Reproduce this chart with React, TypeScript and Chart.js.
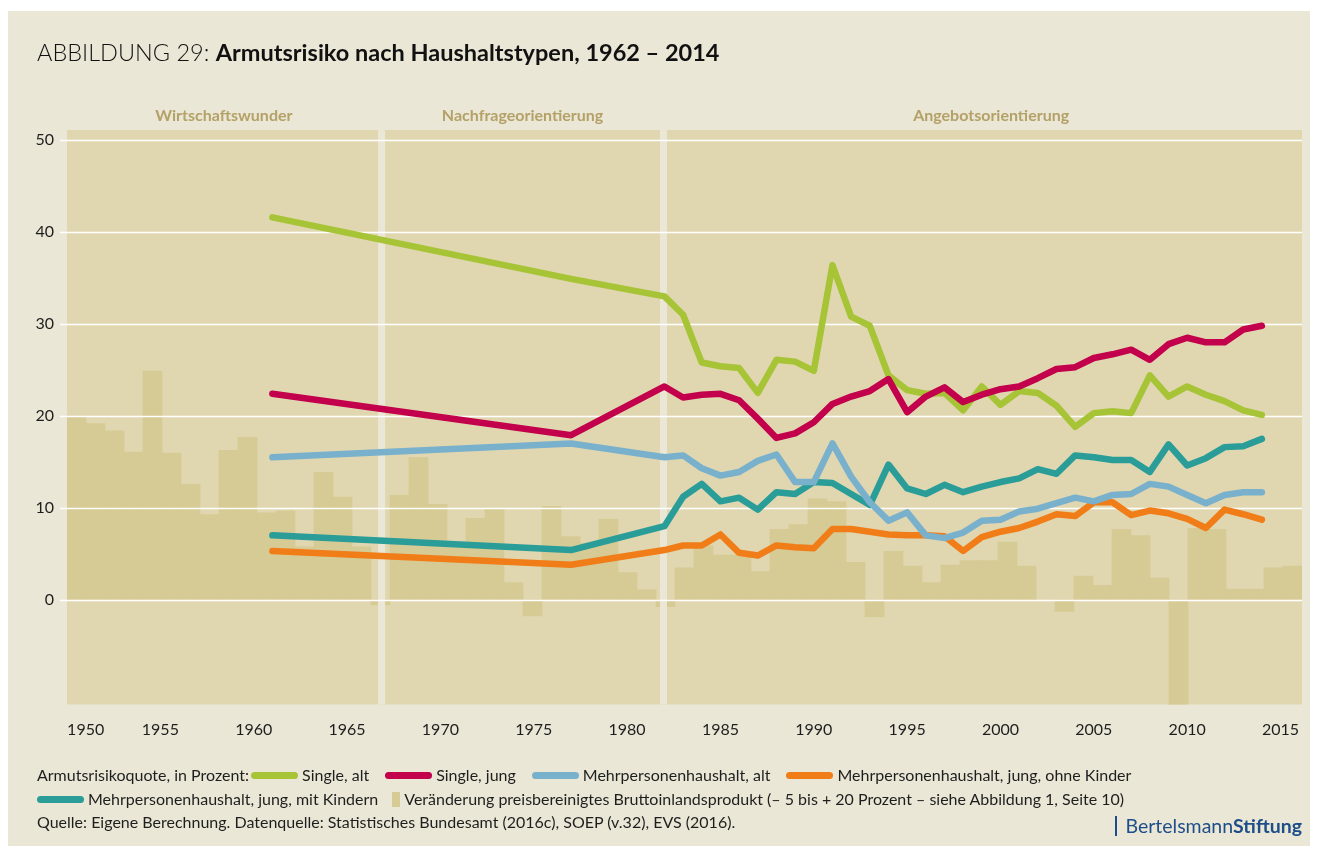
import React, { useEffect, useRef } from 'react';
import { Chart, registerables } from 'chart.js';

Chart.register(...registerables);

// ---------- data ----------
const lineYears = [1961, 1977, 1982, 1983, 1984, 1985, 1986, 1987, 1988, 1989, 1990, 1991, 1992, 1993, 1994, 1995, 1996, 1997, 1998, 1999, 2000, 2001, 2002, 2003, 2004, 2005, 2006, 2007, 2008, 2009, 2010, 2011, 2012, 2013, 2014];

const singleAlt = [41.6, 34.9, 33.0, 31.0, 25.8, 25.4, 25.2, 22.5, 26.1, 25.9, 24.9, 36.4, 30.8, 29.8, 24.4, 22.8, 22.4, 22.5, 20.6, 23.2, 21.2, 22.7, 22.5, 21.1, 18.8, 20.3, 20.5, 20.3, 24.4, 22.1, 23.2, 22.3, 21.6, 20.6, 20.1];
const singleJung = [22.4, 17.9, 23.2, 22.0, 22.3, 22.4, 21.7, 19.7, 17.6, 18.1, 19.3, 21.3, 22.1, 22.7, 24.0, 20.4, 22.1, 23.1, 21.5, 22.3, 22.9, 23.2, 24.1, 25.1, 25.3, 26.3, 26.7, 27.2, 26.1, 27.8, 28.5, 28.0, 28.0, 29.4, 29.8];
const mehrAlt = [15.5, 17.0, 15.5, 15.7, 14.3, 13.5, 13.9, 15.1, 15.8, 12.8, 12.8, 17.0, 13.4, 10.6, 8.6, 9.5, 7.0, 6.7, 7.3, 8.6, 8.7, 9.6, 9.9, 10.5, 11.1, 10.7, 11.4, 11.5, 12.6, 12.3, 11.4, 10.5, 11.4, 11.7, 11.7];
const mehrJungOhne = [5.3, 3.8, 5.4, 5.9, 5.9, 7.1, 5.1, 4.8, 5.9, 5.7, 5.6, 7.7, 7.7, 7.4, 7.1, 7.0, 7.0, 6.9, 5.3, 6.8, 7.4, 7.8, 8.5, 9.3, 9.1, 10.6, 10.6, 9.2, 9.7, 9.4, 8.8, 7.8, 9.8, 9.3, 8.7];
const mehrJungMit = [7.0, 5.4, 8.0, 11.2, 12.6, 10.7, 11.1, 9.8, 11.7, 11.5, 12.8, 12.7, 11.5, 10.3, 14.7, 12.1, 11.5, 12.5, 11.7, 12.3, 12.8, 13.2, 14.2, 13.7, 15.7, 15.5, 15.2, 15.2, 13.9, 16.9, 14.6, 15.4, 16.6, 16.7, 17.5];

const barYears = [1951, 1952, 1953, 1954, 1955, 1956, 1957, 1958, 1959, 1960, 1961, 1962, 1963, 1964, 1965, 1966, 1967, 1968, 1969, 1970, 1971, 1972, 1973, 1974, 1975, 1976, 1977, 1978, 1979, 1980, 1981, 1982, 1983, 1984, 1985, 1986, 1987, 1988, 1989, 1990, 1991, 1992, 1993, 1994, 1995, 1996, 1997, 1998, 1999, 2000, 2001, 2002, 2003, 2004, 2005, 2006, 2007, 2008, 2009, 2010, 2011, 2012, 2013, 2014, 2015];
const gdpBars = [19.9, 19.2, 18.4, 16.1, 24.9, 16.0, 12.6, 9.3, 16.3, 17.7, 9.5, 9.7, 5.8, 13.9, 11.2, 5.8, -0.6, 11.4, 15.5, 10.4, 6.3, 8.9, 9.9, 1.9, -1.8, 10.2, 6.9, 6.2, 8.8, 3.0, 1.1, -0.8, 3.5, 5.9, 4.9, 4.9, 3.1, 7.7, 8.2, 11.0, 10.7, 4.1, -1.9, 5.3, 3.7, 1.9, 3.8, 4.3, 4.3, 6.3, 3.7, 0.0, -1.3, 2.6, 1.6, 7.7, 7.0, 2.4, -11.5, 7.8, 7.7, 1.2, 1.2, 3.5, 3.7];

const yTicks = [0, 10, 20, 30, 40, 50];
const xTickPositions = [1951, 1955, 1960, 1965, 1970, 1975, 1980, 1985, 1990, 1995, 2000, 2005, 2010, 2015];
const xTickLabels = ['1950', '1955', '1960', '1965', '1970', '1975', '1980', '1985', '1990', '1995', '2000', '2005', '2010', '2015'];

const eraNames = ['Wirtschaftswunder', 'Nachfrageorientierung', 'Angebotsorientierung'];
const eraLabelYears = [1958.4, 1974.4, 1999.5];
const eraDividers = [1966.85, 1981.95];

const seriesNames = ['Single, alt', 'Single, jung', 'Mehrpersonenhaushalt, alt', 'Mehrpersonenhaushalt, jung, ohne Kinder', 'Mehrpersonenhaushalt, jung, mit Kindern'];
const seriesColors = ['#a7c437', '#c2004b', '#79b1cd', '#f07d17', '#2a9d98'];
const seriesValues = [singleAlt, singleJung, mehrAlt, mehrJungOhne, mehrJungMit];
const seriesOrder = [5, 2, 1, 3, 4];
const barName = 'Veränderung preisbereinigtes Bruttoinlandsprodukt (– 5 bis + 20 Prozent – siehe Abbildung 1, Seite 10)';

// ---------- style ----------
const outerBg = '#ebe7d6';
const panelBg = '#e0d7b1';
const barColor = '#d6ca95';
const eraColor = '#b4a167';
const textColor = '#1e1e1e';

const W = 1302;
const H = 835;

const decorPlugin = {
  id: 'decor',
  beforeDatasetsDraw(chart: any) {
    const { ctx, chartArea: a, scales } = chart;
    ctx.save();
    ctx.fillStyle = panelBg;
    ctx.fillRect(a.left, a.top, a.right - a.left, a.bottom - a.top);
    ctx.fillStyle = eraColor;
    ctx.font = 'bold 16px Lato';
    ctx.textAlign = 'center';
    ctx.textBaseline = 'alphabetic';
    eraNames.forEach((n, i) => {
      ctx.fillText(n, scales.x.getPixelForValue(eraLabelYears[i]), a.top - 9);
    });
    ctx.restore();
  },
  afterDatasetDraw(chart: any, args: any) {
    if (args.index !== 0) return;
    const { ctx, chartArea: a, scales } = chart;
    ctx.save();
    ctx.fillStyle = outerBg;
    eraDividers.forEach((d) => {
      const px = scales.x.getPixelForValue(d);
      ctx.fillRect(px - 3.5, a.top, 7, a.bottom - a.top);
    });
    ctx.strokeStyle = '#ffffff';
    ctx.lineWidth = 1.3;
    yTicks.forEach((v) => {
      const py = Math.round(scales.y.getPixelForValue(v)) + 0.5;
      ctx.beginPath();
      ctx.moveTo(a.left - 7, py);
      ctx.lineTo(a.right, py);
      ctx.stroke();
    });
    ctx.restore();
  },
};

function LineSwatch({ color, first }: { color: string; first?: boolean }) {
  return (
    <span
      style={{
        display: 'inline-block',
        width: 47,
        height: 7,
        borderRadius: 4,
        background: color,
        verticalAlign: 'middle',
        marginLeft: first ? 2 : 0,
        marginRight: 4,
        position: 'relative',
        top: -1,
      }}
    />
  );
}

export default function App() {
  const ref = useRef<HTMLCanvasElement | null>(null);

  useEffect(() => {
    if (!ref.current) return;
    const datasets: any[] = [
      {
        type: 'bar',
        label: barName,
        data: barYears.map((x, i) => ({ x, y: gdpBars[i] })),
        xAxisID: 'xb',
        yAxisID: 'y',
        backgroundColor: barColor,
        borderWidth: 0,
        grouped: false,
        barPercentage: 1.04,
        categoryPercentage: 1,
        order: 10,
      },
    ];
    seriesValues.forEach((vals, s) => {
      datasets.push({
        type: 'line',
        label: seriesNames[s],
        data: lineYears.map((x, i) => ({ x, y: vals[i] })),
        xAxisID: 'x',
        yAxisID: 'y',
        borderColor: seriesColors[s],
        backgroundColor: seriesColors[s],
        borderWidth: 6.5,
        pointRadius: 0,
        tension: 0,
        borderCapStyle: 'round',
        borderJoinStyle: 'round',
        fill: false,
        order: seriesOrder[s],
      });
    });

    const chart = new Chart(ref.current, {
      type: 'bar',
      data: { datasets },
      plugins: [decorPlugin],
      options: {
        animation: false,
        responsive: false,
        maintainAspectRatio: false,
        layout: { padding: { top: 119, right: 8, bottom: 101.5, left: 0 } },
        plugins: { legend: { display: false }, tooltip: { enabled: false } },
        scales: {
          x: {
            type: 'linear',
            offset: false,
            min: 1950,
            max: 2016.15,
            afterBuildTicks: (scale: any) => {
              scale.ticks = xTickPositions.map((v) => ({ value: v }));
            },
            afterFit: (scale: any) => {
              scale.height = 40;
            },
            grid: { display: false, drawTicks: true, tickLength: 16, offset: false },
            border: { display: false },
            ticks: {
              autoSkip: false,
              maxRotation: 0,
              padding: 0,
              color: textColor,
              font: { family: 'Lato', size: 16 },
              callback: (_v: any, i: number) => xTickLabels[i],
            },
          },
          xb: {
            type: 'linear',
            display: false,
            offset: false,
            grid: { offset: false },
            min: 1950.5,
            max: 2015.5,
            afterBuildTicks: (scale: any) => {
              scale.ticks = barYears.map((v) => ({ value: v }));
            },
          },
          y: {
            type: 'linear',
            min: -11.4,
            max: 51.1,
            afterBuildTicks: (scale: any) => {
              scale.ticks = yTicks.map((v) => ({ value: v }));
            },
            afterFit: (scale: any) => {
              scale.width = 59;
            },
            grid: { display: false, drawTicks: false },
            border: { display: false },
            ticks: {
              padding: 13,
              color: textColor,
              font: { family: 'Lato', size: 16 },
            },
          },
        },
      } as any,
    });
    return () => chart.destroy();
  }, []);

  const rowStyle: React.CSSProperties = {
    position: 'absolute',
    left: 29,
    fontSize: 16,
    lineHeight: '16px',
    whiteSpace: 'nowrap',
    color: textColor,
  };

  return (
    <div
      style={{
        position: 'relative',
        width: W,
        height: H,
        marginTop: 3,
        background: outerBg,
        fontFamily: 'Lato, sans-serif',
        overflow: 'hidden',
      }}
    >
      <canvas ref={ref} width={W} height={H} style={{ position: 'absolute', left: 0, top: 0, width: W, height: H, display: 'block' }} />
      <div style={{ position: 'absolute', left: 29, top: 29, fontSize: 23.5, lineHeight: '24px', color: '#111', whiteSpace: 'nowrap' }}>
        <span style={{ fontWeight: 300 }}>ABBILDUNG 29: </span>
        <span style={{ fontWeight: 700 }}>Armutsrisiko nach Haushaltstypen, 1962 – 2014</span>
      </div>
      <div style={{ ...rowStyle, top: 756 }}>
        <span>Armutsrisikoquote, in Prozent:</span>
        {seriesNames.slice(0, 4).map((n, i) => (
          <span key={n} style={{ marginRight: 16 }}>
            <LineSwatch color={seriesColors[i]} first={i === 0} />
            {n}
          </span>
        ))}
      </div>
      <div style={{ ...rowStyle, top: 780 }}>
        <span style={{ marginRight: 14 }}>
          <LineSwatch color={seriesColors[4]} />
          {seriesNames[4]}
        </span>
        <span
          style={{
            display: 'inline-block',
            width: 8,
            height: 15,
            background: barColor,
            verticalAlign: 'middle',
            marginRight: 4,
            position: 'relative',
            top: -1,
          }}
        />
        {barName}
      </div>
      <div style={{ ...rowStyle, top: 803 }}>
        Quelle: Eigene Berechnung. Datenquelle: Statistisches Bundesamt (2016c), SOEP (v.32), EVS (2016).
      </div>
      <div
        style={{
          position: 'absolute',
          right: 8,
          top: 805,
          fontSize: 19.5,
          lineHeight: '20px',
          color: '#1d4e89',
          whiteSpace: 'nowrap',
          borderLeft: '2px solid #1d4e89',
          paddingLeft: 8,
        }}
      >
        Bertelsmann<span style={{ fontWeight: 700 }}>Stiftung</span>
      </div>
    </div>
  );
}
